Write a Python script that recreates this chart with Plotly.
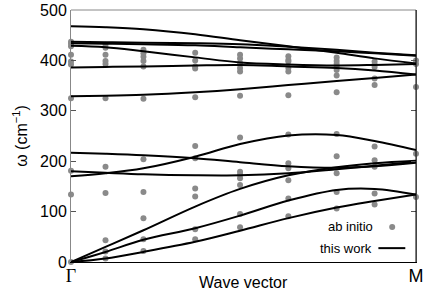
import plotly.graph_objects as go

# k-point positions (fraction of Γ→M)
k_cols = [0.0, 0.10, 0.21, 0.36, 0.49, 0.63, 0.77, 0.88, 1.0]

# ab initio frequencies (cm^-1) per k column
ab_initio = [
    [0, 134, 181, 325, 392, 398, 411, 428, 433, 437],
    [7, 21, 43, 137, 189, 325, 393, 399, 411, 425, 431],
    [22, 45, 87, 139, 204, 324, 388, 399, 407, 414, 421],
    [45, 65, 130, 146, 206, 230, 327, 384, 388, 400, 415],
    [69, 95, 153, 166, 173, 179, 247, 330, 378, 385, 395, 404, 411],
    [91, 126, 162, 186, 196, 253, 331, 378, 385, 398, 401, 408],
    [106, 139, 176, 210, 254, 337, 370, 381, 388, 393, 399, 406],
    [114, 136, 189, 202, 229, 351, 364, 387, 392, 398],
    [129, 215, 347, 393, 400],
]

# "this work" dispersion branches at the same k columns
branches = [
    [468, 466, 462, 452, 440, 428, 415, 404, 394],
    [437, 436, 435, 434, 432, 427, 421, 415, 410],
    [434, 433, 432, 430, 426, 422, 418, 414, 409],
    [429, 426, 418, 406, 396, 392, 390, 391, 393],
    [386, 387, 388, 390, 391, 388, 385, 380, 372],
    [329, 330, 332, 337, 343, 351, 359, 365, 372],
    [170, 176, 186, 209, 234, 251, 252, 240, 222],
    [217, 215, 212, 206, 198, 190, 187, 190, 197],
    [180, 177, 174, 172, 172, 176, 184, 191, 199],
    [0, 30, 63, 110, 145, 172, 188, 196, 201],
    [0, 20, 44, 67, 92, 122, 143, 145, 134],
    [0, 7, 20, 40, 62, 87, 108, 121, 134],
]

x_ticks = [0.0, 1.0]
x_ticktext = ["<span style='font-family:Liberation Serif, Times New Roman, serif'>Γ</span>", "M"]
y_ticks = [0, 100, 200, 300, 400, 500]

DOT = "#8a8a8a"
FONT = "Liberation Sans, Arial, sans-serif"

fig = go.Figure()

dx, dy = [], []
for k, col in zip(k_cols, ab_initio):
    for v in col:
        dx.append(k)
        dy.append(v)
fig.add_trace(go.Scatter(x=dx, y=dy, mode="markers", name="ab initio",
                         marker=dict(color=DOT, size=6, symbol="circle"),
                         cliponaxis=False))

for b in branches:
    fig.add_trace(go.Scatter(x=k_cols, y=b, mode="lines", name="this work",
                             line=dict(color="black", width=2, shape="spline", smoothing=1.0),
                             showlegend=False))

fig.update_layout(
    width=436, height=305,
    margin=dict(l=71, r=20, t=10, b=43),
    paper_bgcolor="white", plot_bgcolor="white",
    showlegend=False,
    font=dict(family=FONT, size=16, color="black"),
)
fig.update_xaxes(range=[0, 1], tickvals=x_ticks, ticktext=x_ticktext, automargin=False,
                 showgrid=False, zeroline=False, showline=True, linecolor="black",
                 linewidth=1, ticks="", tickfont=dict(size=18), ticklabelstandoff=-3)
fig.update_yaxes(range=[0, 500], tickvals=y_ticks, showgrid=False, zeroline=False,
                 automargin=False,
                 showline=True, linecolor="#888888", linewidth=1,
                 ticks="inside", ticklen=5, tickcolor="#555555", mirror="ticks",
                 tickfont=dict(size=16),
                 title=dict(text="ω (cm<sup>−1</sup>)", standoff=8, font=dict(size=16)))

# frame: gray top, black right
fig.add_shape(type="line", xref="paper", yref="paper", x0=0, x1=1, y0=1, y1=1,
              line=dict(color="#888888", width=1))
fig.add_shape(type="line", xref="paper", yref="paper", x0=1, x1=1, y0=0, y1=1,
              line=dict(color="black", width=1))

# x-axis title
fig.add_annotation(text="Wave vector", xref="paper", yref="paper", x=0.5, y=-0.083,
                   showarrow=False, xanchor="center", yanchor="middle", font=dict(size=16))

# gnuplot-style key (text then sample)
fig.add_annotation(text="ab initio", xref="paper", yref="paper", x=0.882, y=0.139,
                   showarrow=False, xanchor="right", yanchor="middle", font=dict(size=13))
fig.add_annotation(text="this work", xref="paper", yref="paper", x=0.879, y=0.055,
                   showarrow=False, xanchor="right", yanchor="middle", font=dict(size=13))
fig.add_shape(type="circle", xref="paper", yref="paper",
              x0=0.931 - 0.0087, x1=0.931 + 0.0087, y0=0.139 - 0.012, y1=0.139 + 0.012,
              fillcolor=DOT, line=dict(color=DOT, width=0))
fig.add_shape(type="line", xref="paper", yref="paper", x0=0.891, x1=0.969, y0=0.055, y1=0.055,
              line=dict(color="black", width=2))

fig.write_html("out.html", config={"displayModeBar": False},
               post_script="document.body.style.margin='0';document.body.style.overflow='hidden';")
